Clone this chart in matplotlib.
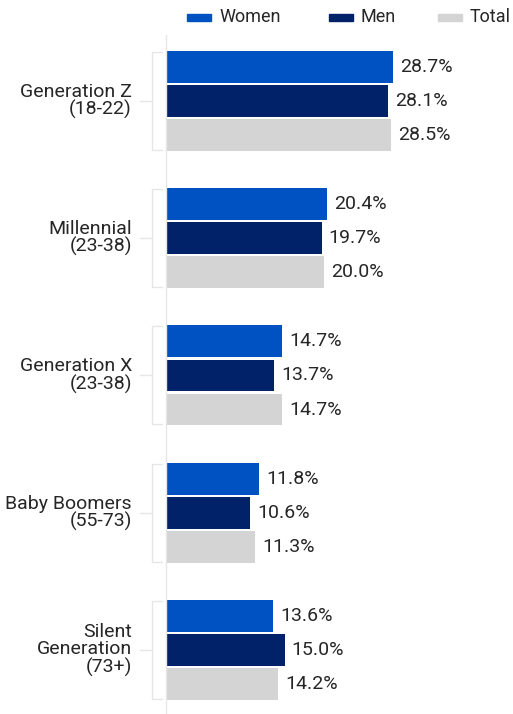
import matplotlib.pyplot as plt
import numpy as np

groups = ['Generation Z\n(18-22)', 'Millennial\n(23-38)', 'Generation X\n(23-38)',
          'Baby Boomers\n(55-73)', 'Silent\nGeneration\n(73+)']
women = [28.7, 20.4, 14.7, 11.8, 13.6]
men = [28.1, 19.7, 13.7, 10.6, 15.0]
total = [28.5, 20.0, 14.7, 11.3, 14.2]

series = [('Women', women, '#0052c2'), ('Men', men, '#012169'), ('Total', total, '#d4d4d4')]

plt.rcParams['font.family'] = ['Roboto', 'DejaVu Sans']
text_color = '#262626'
line_color = '#e6e6e6'
fs = 14

fig = plt.figure(figsize=(5.13, 7.14), dpi=100)
ax = fig.add_axes([166 / 513, 0, 347 / 513, 1 - 35 / 714])

y = np.arange(len(groups))
h = 0.232
step = 0.248
for i, (name, vals, col) in enumerate(series):
    pos = y + (i - 1) * step
    ax.barh(pos, vals, height=h, color=col, label=name)
    for p, v in zip(pos, vals):
        ax.text(v + 0.9, p, '%.1f%%' % v, va='center', ha='left',
                fontsize=fs, color=text_color)

ax.set_xlim(0, 347 / 7.9)
ax.set_ylim(4.466, -0.48)
ax.set_xticks([])
ax.set_yticks([])
for s in ['top', 'right', 'bottom']:
    ax.spines[s].set_visible(False)
ax.spines['left'].set_color(line_color)
ax.spines['left'].set_linewidth(1)

# brackets and group labels left of the axis
tr = ax.get_yaxis_transform()
for yc, g in zip(y, groups):
    top, bot = yc - 0.357, yc + 0.357
    ax.plot([-0.0115, -0.0403, -0.0403, -0.0115], [top, top, bot, bot],
            transform=tr, color=line_color, lw=1, clip_on=False)
    ax.plot([-0.075, -0.0403], [yc, yc], transform=tr, color=line_color,
            lw=1, clip_on=False)
    ax.text(-0.098, yc, g, transform=tr, ha='right', va='center',
            fontsize=fs, color=text_color, linespacing=0.95)

# legend row
for x0, (name, vals, col) in zip([187, 329, 438], series):
    fig.patches.append(plt.Rectangle((x0 / 513, 1 - 21 / 714), 24 / 513, 7 / 714,
                                     transform=fig.transFigure, color=col))
    fig.text((x0 + 32) / 513, 1 - 17 / 714, name, ha='left', va='center',
             fontsize=13, color=text_color)

fig.savefig('out.png', dpi=100)
